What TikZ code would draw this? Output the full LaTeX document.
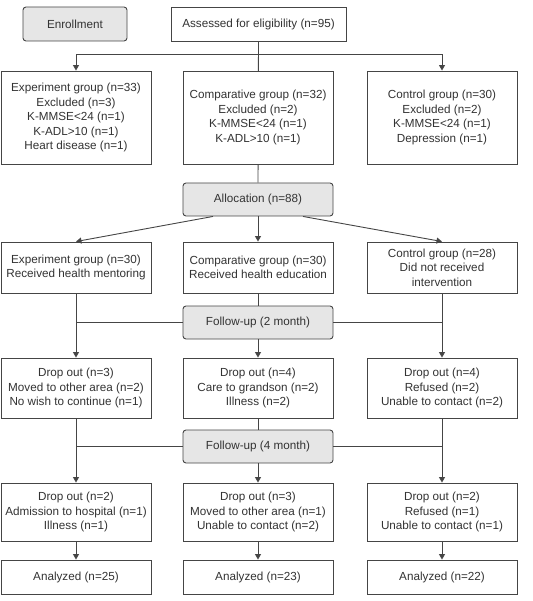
\documentclass[tikz,border=0pt]{standalone}
\usepackage{fontspec}
\setmainfont{Liberation Sans}
\usetikzlibrary{arrows.meta,backgrounds}
\definecolor{lc}{HTML}{454545}
\definecolor{tc}{HTML}{333333}
\definecolor{gf}{HTML}{E6E6E6}
\tikzset{
  box/.style={draw=lc, line width=0.9pt, fill=white, inner sep=0pt, align=center,
    text=tc, font=\fontsize{11.7}{14.5}\selectfont},
  gbox/.style={box, fill=gf, rounded corners=3pt},
  conn/.style={draw=lc, line width=0.9pt},
  arr/.style={conn, -{Triangle[width=6pt,length=5.5pt]}},
}
\begin{document}
\begin{tikzpicture}[x=1pt,y=-1pt]
\useasboundingbox (0,0) rectangle (532,601);
% top
\node[gbox, minimum width=104pt, minimum height=34pt] (enr) at (75,24) {Enrollment};
\node[box, minimum width=175pt, minimum height=34pt] (ass) at (258.5,24) {Assessed for eligibility (n=95)};
% row 1
\node[box, minimum width=150pt, minimum height=93pt] (e1) at (76,117.5) {Experiment group (n=33)\\Excluded (n=3)\\K-MMSE<24 (n=1)\\K-ADL>10 (n=1)\\Heart disease (n=1)};
\node[box, minimum width=150pt, minimum height=93pt] (c1) at (258,117.5) {Comparative group (n=32)\\Excluded (n=2)\\K-MMSE<24 (n=1)\\K-ADL>10 (n=1)};
\node[box, minimum width=150pt, minimum height=93pt] (k1) at (442,117.5) {Control group (n=30)\\Excluded (n=2)\\K-MMSE<24 (n=1)\\Depression (n=1)};
% allocation
\node[gbox, minimum width=150pt, minimum height=33pt] (alloc) at (258,199.5) {Allocation (n=88)};
% row 2
\node[box, minimum width=150pt, minimum height=51pt] (e2) at (76,267.5) {Experiment group (n=30)\\Received health mentoring};
\node[box, minimum width=150pt, minimum height=51pt] (c2) at (258,267.5) {Comparative group (n=30)\\Received health education};
\node[box, minimum width=150pt, minimum height=51pt] (k2) at (442,267.5) {Control group (n=28)\\Did not received\\intervention};
% follow-up 2
\node[gbox, minimum width=150pt, minimum height=33pt] (fu2) at (258,322.5) {Follow-up (2 month)};
% row 3
\node[box, minimum width=150pt, minimum height=60pt] (e3) at (76,388) {Drop out (n=3)\\Moved to other area (n=2)\\No wish to continue (n=1)};
\node[box, minimum width=150pt, minimum height=60pt] (c3) at (258,388) {Drop out (n=4)\\Care to grandson (n=2)\\Illness (n=2)};
\node[box, minimum width=150pt, minimum height=60pt] (k3) at (442,388) {Drop out (n=4)\\Refused (n=2)\\Unable to contact (n=2)};
% follow-up 4
\node[gbox, minimum width=150pt, minimum height=33pt] (fu4) at (258,446.5) {Follow-up (4 month)};
% row 4
\node[box, minimum width=150pt, minimum height=58pt] (e4) at (76,512) {Drop out (n=2)\\Admission to hospital (n=1)\\Illness (n=1)};
\node[box, minimum width=150pt, minimum height=58pt] (c4) at (258,512) {Drop out (n=3)\\Moved to other area (n=1)\\Unable to contact (n=2)};
\node[box, minimum width=150pt, minimum height=58pt] (k4) at (442,512) {Drop out (n=2)\\Refused (n=1)\\Unable to contact (n=1)};
% row 5
\node[box, minimum width=150pt, minimum height=34pt] (e5) at (76,577) {Analyzed (n=25)};
\node[box, minimum width=150pt, minimum height=34pt] (c5) at (258,577) {Analyzed (n=23)};
\node[box, minimum width=150pt, minimum height=34pt] (k5) at (442,577) {Analyzed (n=22)};

% connectors
\begin{scope}[on background layer]
\draw[conn] (ass.south) -- (alloc.north);
\end{scope}
\coordinate (tl) at (76,54.3);
\coordinate (tr) at (442,54.3);
\draw[conn] (tl) -- (tr);
\draw[arr] (tl) -- (e1.north);
\draw[arr] (tr) -- (k1.north);
\draw[arr] (alloc.south -| 213,0) -- (e2.north);
\draw[arr] (alloc.south) -- (c2.north);
\draw[arr] (alloc.south -| 303,0) -- (k2.north);
% follow-up 2
\draw[conn] (c2.south) -- (fu2.north);
\draw[arr] (fu2.south) -- (c3.north);
\draw[arr] (e2.south) -- (e3.north);
\draw[arr] (k2.south) -- (k3.north);
\draw[conn] (fu2.west) -- (fu2.west -| e2.south);
\draw[conn] (fu2.east) -- (fu2.east -| k2.south);
% follow-up 4
\draw[conn] (c3.south) -- (fu4.north);
\draw[arr] (fu4.south) -- (c4.north);
\draw[arr] (e3.south) -- (e4.north);
\draw[arr] (k3.south) -- (k4.north);
\draw[conn] (fu4.west) -- (fu4.west -| e3.south);
\draw[conn] (fu4.east) -- (fu4.east -| k3.south);
% final
\draw[arr] (e4.south) -- (e5.north);
\draw[arr] (c4.south) -- (c5.north);
\draw[arr] (k4.south) -- (k5.north);
\end{tikzpicture}
\end{document}
